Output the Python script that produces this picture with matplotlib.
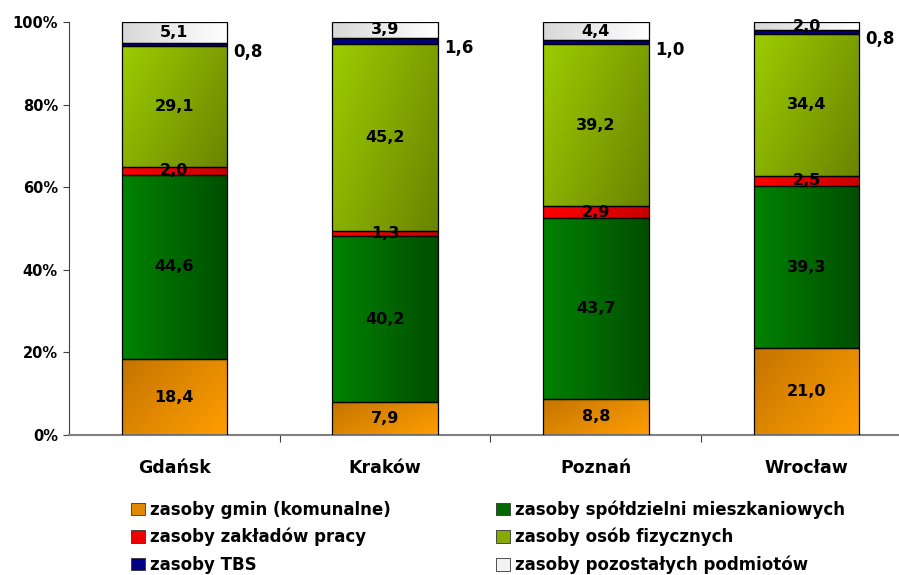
import numpy as np
import matplotlib
matplotlib.use('Agg')
import matplotlib.pyplot as plt
from matplotlib.colors import to_rgb
from matplotlib.patches import Patch

plt.rcParams['font.family'] = ['DejaVu Sans']
plt.rcParams['font.weight'] = 'bold'

cities = ['Gdańsk', 'Kraków', 'Poznań', 'Wrocław']

# udzial zasobow mieszkaniowych wg wlasciciela (%)
gminy = [18.4, 7.9, 8.8, 21.0]
spoldzielnie = [44.6, 40.2, 43.7, 39.3]
zaklady = [2.0, 1.3, 2.9, 2.5]
osoby = [29.1, 45.2, 39.2, 34.4]
tbs = [0.8, 1.6, 1.0, 0.8]
pozostale = [5.1, 3.9, 4.4, 2.0]

series = [
    ('zasoby gmin (komunalne)', gminy),
    ('zasoby spółdzielni mieszkaniowych', spoldzielnie),
    ('zasoby zakładów pracy', zaklady),
    ('zasoby osób fizycznych', osoby),
    ('zasoby TBS', tbs),
    ('zasoby pozostałych podmiotów', pozostale),
]

# (kolor 1, kolor 2, kat gradientu, kolor legendy)
styles = [
    ('#C47400', '#FF9E00', -35, '#E08800'),
    ('#008200', '#004E00', 0, '#006A00'),
    ('#FF0000', '#C80000', 0, '#EE0000'),
    ('#9CCC00', '#6A8400', -30, '#86AA00'),
    ('#000080', '#000070', 0, '#000080'),
    ('#D8D8D8', '#FFFFFF', 0, '#F2F2F2'),
]


def gradient(c1, c2, angle, n=64):
    a = np.deg2rad(angle)
    xx, yy = np.meshgrid(np.linspace(0, 1, n), np.linspace(1, 0, n))
    t = xx * np.cos(a) + (1 - yy) * (-np.sin(a))
    t = (t - t.min()) / (t.max() - t.min() + 1e-9)
    c1, c2 = np.array(to_rgb(c1)), np.array(to_rgb(c2))
    return c1[None, None, :] * (1 - t[..., None]) + c2[None, None, :] * t[..., None]


fig = plt.figure(figsize=(8.99, 5.75), dpi=100)
ax = fig.add_axes([69 / 899, 140 / 575, 830 / 899, 413 / 575])

x = np.arange(len(cities))
width = 0.5
bottom = np.zeros(len(cities))

for (name, vals), (c1, c2, ang, lc) in zip(series, styles):
    vals = np.array(vals)
    bars = ax.bar(x, vals, width, bottom=bottom, color=lc, edgecolor='none', zorder=2)
    img = gradient(c1, c2, ang)
    for b in bars:
        x0, y0 = b.get_x(), b.get_y()
        im = ax.imshow(img, extent=[x0, x0 + b.get_width(), y0, y0 + b.get_height()],
                       aspect='auto', zorder=2.5, interpolation='bilinear')
        im.set_clip_path(b)
    ax.bar(x, vals, width, bottom=bottom, fill=False, edgecolor='black', linewidth=0.9, zorder=3)

    for i, v in enumerate(vals):
        lbl = f'{v:.1f}'.replace('.', ',')
        yc = bottom[i] + v / 2
        if name == 'zasoby TBS':
            ax.text(x[i] + width / 2 + 0.03, yc - 1.8, lbl, ha='left', va='center',
                    fontsize=12, fontweight='bold', zorder=5)
        else:
            ax.text(x[i], yc, lbl, ha='center', va='center',
                    fontsize=11.5, fontweight='bold', zorder=5)
    bottom += vals

ax.set_xlim(-0.5, 3.5 - 13 / 211)
ax.set_ylim(0, 100)

ax.set_yticks([0, 20, 40, 60, 80, 100])
ax.set_yticklabels([f'{t}%' for t in [0, 20, 40, 60, 80, 100]], fontsize=10.5, fontweight='bold')
ax.tick_params(axis='y', direction='out', length=4, width=0.8, color='#404040', pad=4)

ax.set_xticks(x)
ax.set_xticklabels(cities, fontsize=12.5, fontweight='bold')
ax.tick_params(axis='x', length=0, pad=17)
ax.set_xticks([0.5, 1.5, 2.5], minor=True)
ax.tick_params(axis='x', which='minor', direction='out', length=5, width=0.8, color='#404040')

for s in ['top', 'right']:
    ax.spines[s].set_visible(False)
ax.spines['left'].set_color('#404040')
ax.spines['bottom'].set_color('#808080')
ax.spines['bottom'].set_linewidth(1.5)

handles = [Patch(facecolor=s[3], edgecolor='#333333', linewidth=0.6, label=n)
           for (n, _), s in zip(series, styles)]
order = [0, 2, 4, 1, 3, 5]
fig.legend([handles[i] for i in order], [series[i][0] for i in order],
           loc='upper left', bbox_to_anchor=(123 / 899, 1 - 492 / 575), ncol=2,
           frameon=False, borderpad=0, handlelength=0.8, handleheight=0.8,
           handletextpad=0.35, columnspacing=6.3, labelspacing=0.55,
           prop={'weight': 'bold', 'size': 12})

fig.savefig('out.png', dpi=100)
